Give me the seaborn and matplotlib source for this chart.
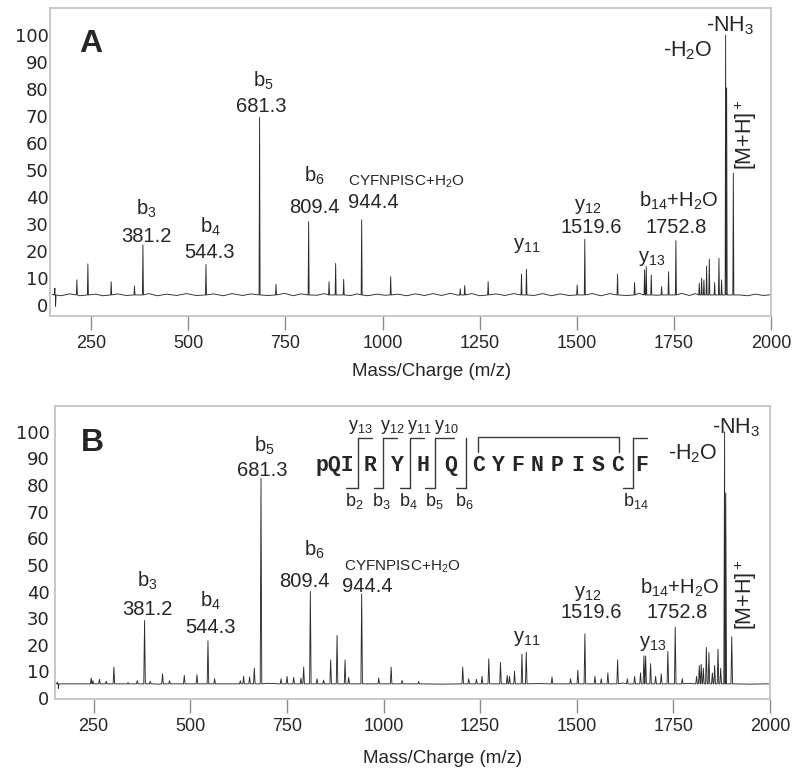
import pandas as pd
import seaborn as sns
import matplotlib.pyplot as plt

sns.set_theme(style='white')
plt.rcParams['font.family'] = ['Liberation Sans', 'DejaVu Sans']
plt.rcParams['mathtext.fontset'] = 'custom'
plt.rcParams['mathtext.rm'] = 'Liberation Sans'
plt.rcParams['mathtext.it'] = 'Liberation Sans:italic'

# ---- spectrum A : peak sticks (m/z, relative intensity)
peaks_a_mz = [156.5, 158.3, 213.2, 241.5, 301.5, 361.5, 383.2, 545.5, 683.5, 725.8,
              809.8, 862.3, 879.3, 900.0, 946.3, 1021.0, 1200.0, 1211.6, 1271.9, 1357.7,
              1370.5, 1501.1, 1520.7, 1605.0, 1648.8, 1674.5, 1678.9, 1691.8, 1718.3, 1736.3,
              1755.2, 1815.4, 1821.4, 1827.3, 1834.2, 1841.2, 1854.9, 1866.0, 1872.8, 1883.2,
              1885.8, 1903.0]
peaks_a_int = [6.2, -0.5, 9.3, 15.2, 8.6, 7.0, 22.2, 15.0, 69.5, 7.7,
               30.9, 8.6, 15.4, 9.5, 31.5, 10.5, 6.0, 7.2, 8.6, 11.4,
               13.2, 7.4, 24.3, 11.4, 8.3, 13.0, 14.2, 11.1, 6.8, 12.3,
               23.8, 8.0, 9.9, 9.3, 14.4, 17.0, 8.3, 17.3, 9.3, 100.0,
               80.4, 48.8]
# baseline wiggle of spectrum A
noise_a_mz = [150, 172, 195, 220, 262, 280, 318, 340, 398, 420, 445, 470, 495, 520, 565,
              590, 612, 640, 662, 705, 748, 770, 790, 832, 850, 918, 935, 962, 985, 1005,
              1040, 1062, 1085, 1108, 1130, 1152, 1175, 1195, 1230, 1250, 1292, 1315, 1338,
              1390, 1412, 1435, 1458, 1480, 1540, 1562, 1585, 1628, 1660, 1705, 1770, 1790,
              1805, 1920, 1940, 1960, 1980, 2000]
noise_a_int = [3.9, 3.4, 4.1, 3.4, 4.0, 3.4, 4.1, 3.5, 4.2, 3.4, 4.0, 3.5, 4.2, 3.5, 4.1,
               3.4, 4.2, 3.5, 4.1, 3.5, 4.3, 3.4, 4.1, 3.6, 4.2, 3.5, 4.1, 3.4, 4.0, 3.6,
               4.0, 3.4, 4.1, 3.5, 4.2, 3.5, 4.3, 3.6, 4.2, 3.4, 4.1, 3.5, 4.2,
               3.5, 4.2, 3.4, 4.1, 3.5, 4.2, 3.4, 4.2, 3.5, 4.3, 3.6, 4.3, 3.5,
               4.2, 3.7, 3.4, 4.0, 3.5, 3.8]

# ---- spectrum B
peaks_b_mz = [156.5, 158.5, 243.6, 248.0, 265.0, 282.5, 302.4, 339.0, 362.8, 381.7,
              396.4, 428.3, 446.4, 484.5, 517.3, 545.8, 563.0, 629.5, 638.0, 653.5,
              665.7, 683.0, 734.8, 750.4, 767.5, 786.6, 793.4, 810.7, 828.0, 845.0,
              863.3, 879.8, 900.5, 909.9, 943.5, 987.6, 1019.7, 1048.0, 1091.0, 1205.0,
              1220.5, 1240.5, 1255.0, 1272.4, 1302.7, 1320.0, 1326.0, 1339.0, 1358.1, 1369.3,
              1436.0, 1484.0, 1502.8, 1521.0, 1547.0, 1563.4, 1580.5, 1605.7, 1630.8, 1649.7,
              1665.0, 1673.8, 1678.2, 1691.0, 1704.0, 1718.6, 1735.7, 1754.8, 1773.0, 1810.0,
              1817.0, 1822.0, 1827.5, 1835.3, 1842.0, 1850.8, 1856.8, 1865.5, 1872.4, 1882.5,
              1885.5, 1901.0]
peaks_b_int = [6.0, 3.6, 7.5, 6.5, 7.0, 6.3, 11.6, 5.8, 6.5, 29.1,
               6.3, 9.1, 6.5, 8.5, 8.7, 21.5, 7.2, 6.5, 8.1, 7.9,
               11.2, 82.5, 7.2, 8.1, 7.7, 7.5, 11.6, 40.0, 7.2, 6.7,
               14.3, 23.5, 14.3, 7.7, 39.1, 7.5, 11.6, 6.6, 6.2, 11.6,
               7.2, 7.0, 8.1, 14.7, 13.4, 8.5, 8.1, 10.0, 16.5, 17.2,
               7.9, 7.2, 10.4, 24.1, 8.1, 7.2, 9.4, 14.3, 7.2, 8.1,
               9.4, 15.8, 15.8, 12.9, 8.1, 9.1, 17.5, 26.6, 7.2, 8.1,
               12.2, 12.7, 11.2, 19.0, 17.1, 9.4, 12.2, 18.3, 11.2, 100.0,
               77.0, 23.0]
noise_b_mz = [150, 420, 700, 1000, 1150, 1400, 1620, 1790, 1950, 2000]
noise_b_int = [5.4, 5.2, 5.5, 5.3, 5.2, 5.4, 5.6, 5.5, 5.2, 5.3]

x_ticks = [250, 500, 750, 1000, 1250, 1500, 1750, 2000]
y_ticks = [0, 10, 20, 30, 40, 50, 60, 70, 80, 90, 100]

# annotation texts: (text, m/z, intensity)
ions_a = [(r'b$_3$', 391.7, 33.6), ('381.2', 391.2, 23.2),
          (r'b$_4$', 556.5, 26.6), ('544.3', 555.8, 17.3),
          (r'b$_5$', 693.1, 80.9), ('681.3', 687.9, 71.6),
          (r'b$_6$', 823.7, 45.7), ('809.4', 824.0, 34.0),
          ('944.4', 975.1, 35.8), (r'y$_{11}$', 1370.0, 20.6),
          (r'y$_{12}$', 1529.0, 35.2), ('1519.6', 1536.2, 26.6),
          (r'b$_{14}$+H$_2$O', 1762.9, 36.4), ('1752.8', 1755.7, 26.6),
          (r'y$_{13}$', 1693.3, 16.0)]
ions_b = [(r'b$_3$', 388.1, 41.7), ('381.2', 388.1, 31.1),
          (r'b$_4$', 551.8, 34.2), ('544.3', 551.8, 24.6),
          (r'b$_5$', 691.6, 92.6), ('681.3', 685.7, 83.6),
          (r'b$_6$', 821.6, 53.5), ('809.4', 794.7, 41.7),
          ('944.4', 958.8, 39.8), (r'y$_{11}$', 1370.5, 21.2),
          (r'y$_{12}$', 1528.5, 37.9), ('1519.6', 1537.8, 29.9),
          (r'b$_{14}$+H$_2$O', 1766.9, 39.2), ('1752.8', 1758.9, 29.9),
          (r'y$_{13}$', 1695.5, 19.3)]
cyf_pos = {'A': (1060.9, 44.2), 'B': (1049.5, 47.9)}
loss_pos = {'A': [(r'-H$_2$O', 1786.0, 92.0), (r'-NH$_3$', 1894.0, 101.2), (r'[M+H]$^+$', 1934.7, 63.0)],
            'B': [(r'-H$_2$O', 1801.1, 89.6), (r'-NH$_3$', 1912.5, 99.5), (r'[M+H]$^+$', 1937.0, 38.8)]}

# peptide sequence for panel B
seq_letters = ['R', 'Y', 'H', 'Q', 'C', 'Y', 'F', 'N', 'P', 'I', 'S', 'C', 'F']
seq_x = [966.1, 1035.2, 1102.5, 1173.2, 1245.7, 1297.5, 1346.7, 1398.5, 1450.3, 1502.0, 1553.9, 1605.6, 1667.8]
cut_x = [935.0, 999.0, 1067.8, 1134.4, 1212.9, 1646.3]
cut_top = [970.5, 1035.2, 1104.1, 1181.8, None, 1682.5]
cut_bot = [903.9, 974.6, 1041.9, 1108.5, 1188.8, 1620.4]
y_frag = [r'y$_{13}$', r'y$_{12}$', r'y$_{11}$', r'y$_{10}$']
y_frag_x = [939.4, 1022.3, 1093.0, 1162.1]
b_frag = [r'b$_2$', r'b$_3$', r'b$_4$', r'b$_5$', r'b$_6$', r'b$_{14}$']
b_frag_x = [924.6, 995.3, 1065.2, 1131.8, 1209.5, 1652.3]


def spectrum_frame(mz, inten, noise_mz, noise_int, base, hw):
    xs, ys = list(noise_mz), list(noise_int)
    for m, h in zip(mz, inten):
        xs += [m - hw, m, m + hw]
        ys += [base, h, base]
    df = pd.DataFrame({'mz': xs, 'intensity': ys})
    return df.sort_values('mz', kind='stable').reset_index(drop=True)


def style_axes(ax, xlim, ylim, ypad, xlab_x, xlab_y):
    ax.set_xlim(*xlim)
    ax.set_ylim(*ylim)
    ax.set_xticks(x_ticks)
    ax.set_yticks(y_ticks, labels=[str(v) for v in y_ticks],
                  fontfamily='DejaVu Sans', fontsize=13)
    ax.tick_params(axis='x', direction='out', length=10, width=1, color='#8c8c8c',
                   labelsize=13, pad=4, bottom=True)
    ax.tick_params(axis='y', length=0, pad=ypad, left=True)
    for s in ax.spines.values():
        s.set_color('#c4c4c4')
        s.set_linewidth(1.3)
    ax.set_xlabel('Mass/Charge (m/z)', fontsize=13.5)
    ax.xaxis.set_label_coords(xlab_x, xlab_y)
    ax.set_ylabel('')


def annotate(ax, key, ions):
    for txt, x, y in ions:
        ax.text(x, y, txt, ha='center', va='baseline', fontsize=14.5)
    cx, cy = cyf_pos[key]
    ax.text(cx, cy, r'CYFNPISC+H$_2$O', ha='center', va='baseline', fontsize=11)
    for txt, x, y in loss_pos[key]:
        if txt.startswith('[M'):
            ax.text(x, y, txt, ha='center', va='center', rotation=90, fontsize=15.5)
        else:
            ax.text(x, y, txt, ha='center', va='baseline', fontsize=15.5)


fig = plt.figure(figsize=(8, 7.73), dpi=100)
ax_a = fig.add_axes([0.0625, 0.5912, 0.90125, 0.3984])
ax_b = fig.add_axes([0.06875, 0.0957, 0.89375, 0.3790])

df_a = spectrum_frame(peaks_a_mz, peaks_a_int, noise_a_mz, noise_a_int, 3.7, 1.3)
df_b = spectrum_frame(peaks_b_mz, peaks_b_int, noise_b_mz, noise_b_int, 5.3, 2.0)

sns.lineplot(data=df_a, x='mz', y='intensity', ax=ax_a, color='#2b2b2b', lw=0.65,
             estimator=None, sort=False)
sns.lineplot(data=df_b, x='mz', y='intensity', ax=ax_b, color='#2b2b2b', lw=0.65,
             estimator=None, sort=False)

style_axes(ax_a, (144, 2000), (-4.1, 110), 1, 0.529, -0.1526)
style_axes(ax_b, (150, 2000), (-0.4, 109.7), 4, 0.542, -0.174)

annotate(ax_a, 'A', ions_a)
annotate(ax_b, 'B', ions_b)

ax_a.text(0.0566, 0.8825, 'A', transform=ax_a.transAxes, fontsize=23,
          fontweight='bold', ha='center', va='center')
ax_b.text(0.0529, 0.8754, 'B', transform=ax_b.transAxes, fontsize=23,
          fontweight='bold', ha='center', va='center')

# sequence with fragment brackets
seq_font = dict(family='Liberation Mono', fontweight='bold', fontsize=15.5,
                ha='center', va='baseline')
ax_b.text(874.4, 85.4, 'pQI', **seq_font)
for ch, x in zip(seq_letters, seq_x):
    ax_b.text(x, 85.4, ch, **seq_font)
lc = dict(color='#3a3a3a', lw=1.0, clip_on=False)
for x, xt, xb in zip(cut_x, cut_top, cut_bot):
    ax_b.plot([x, x], [79.0, 97.6], **lc)
    ax_b.plot([xb, x], [79.0, 79.0], **lc)
    if xt is not None:
        ax_b.plot([x, xt], [97.6, 97.6], **lc)
ax_b.plot([1243.9, 1243.9, 1609.0, 1609.0], [92.6, 98.2, 98.2, 92.6], **lc)
for txt, x in zip(y_frag, y_frag_x):
    ax_b.text(x, 100.7, txt, ha='center', va='baseline', fontsize=13)
for txt, x in zip(b_frag, b_frag_x):
    ax_b.text(x, 72.0, txt, ha='center', va='baseline', fontsize=13)

fig.savefig('out.png', dpi=100)
